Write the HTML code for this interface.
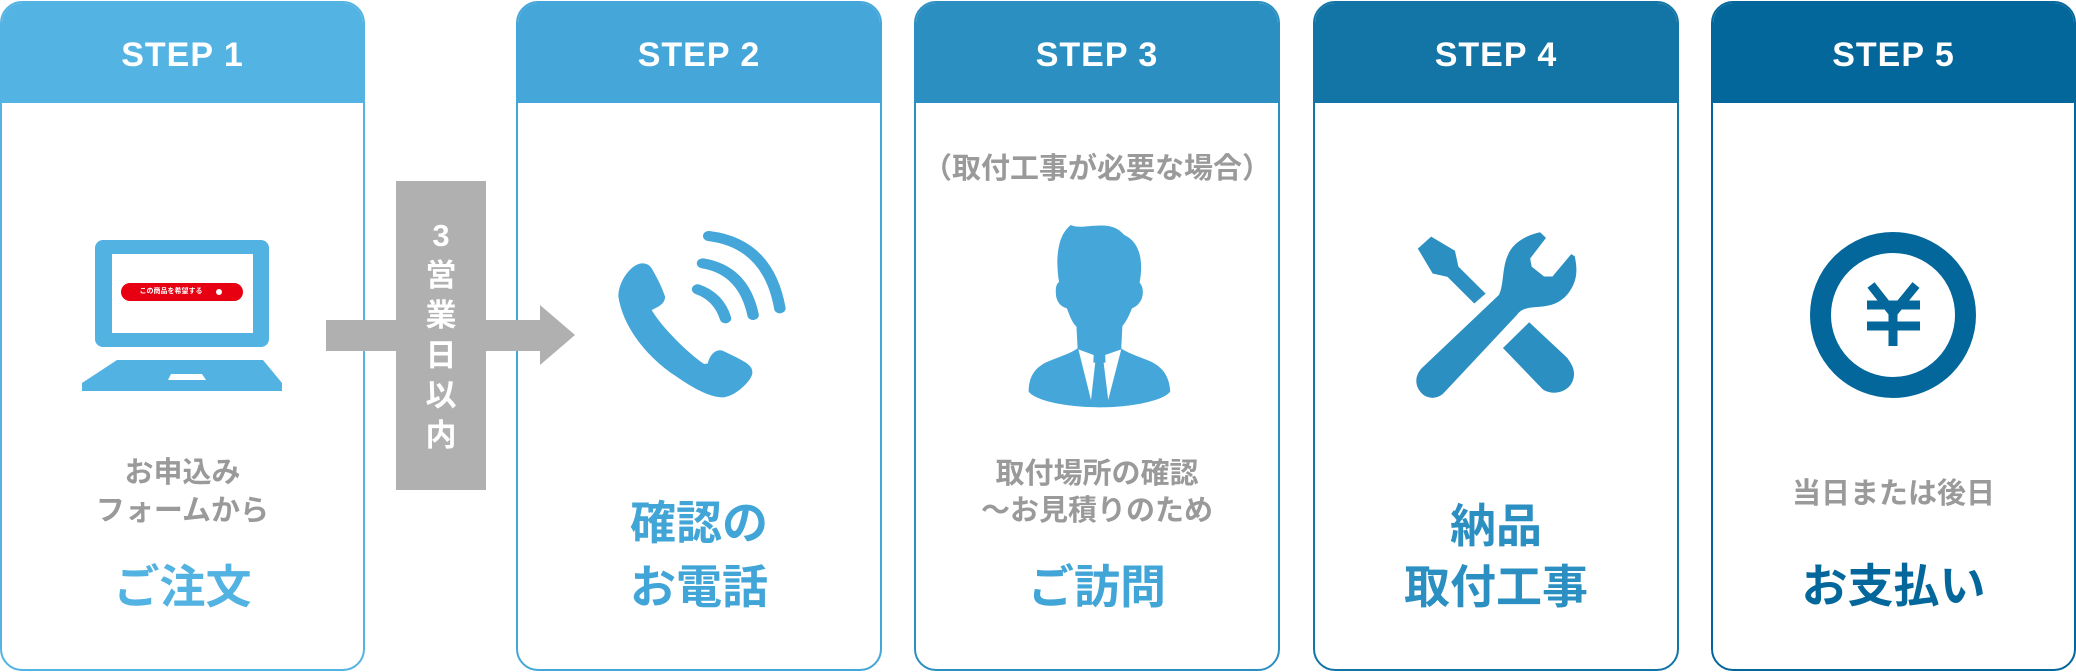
<!DOCTYPE html>
<html><head><meta charset="utf-8"><style>
*{margin:0;padding:0;box-sizing:border-box}
body{width:2076px;height:672px;background:#fff;position:relative;overflow:hidden;font-family:"Liberation Sans","Noto Sans CJK JP",sans-serif;font-weight:bold}
.card{position:absolute;top:1px;height:670px;width:366px;border:2px solid;border-radius:22px;overflow:hidden;background:#fff}
.hd{position:absolute;left:0;top:0;right:0;height:100px;color:#fff;font-size:34px;text-align:center;line-height:104px;letter-spacing:1px}
.t{position:absolute;left:0;right:0;text-align:center;white-space:nowrap}
.s{font-size:29px;color:#9a9a9a;line-height:36px}
.b{font-size:46px;line-height:56px}
</style></head><body>
<div class="card" style="left:0px;width:365px;border-color:#53b3e3"><div class="hd" style="background:#53b3e3">STEP 1</div>
<div class="t s" style="top:452px">お申込み</div>
<div class="t s" style="top:490px">フォームから</div>
<div class="t b" style="top:556px;color:#52b2e2">ご注文</div></div>
<div class="card" style="left:516px;border-color:#44a6d9"><div class="hd" style="background:#44a6d9">STEP 2</div>
<div class="t b" style="top:492px;color:#42a5d8">確認の</div>
<div class="t b" style="top:556px;color:#42a5d8">お電話</div></div>
<div class="card" style="left:914px;border-color:#2b8fc2"><div class="hd" style="background:#2b8fc2">STEP 3</div>
<div class="t s" style="top:148px">（取付工事が必要な場合）</div>
<div class="t s" style="top:453px">取付場所の確認</div>
<div class="t s" style="top:490px">～お見積りのため</div>
<div class="t b" style="top:556px;color:#42a5d8">ご訪問</div></div>
<div class="card" style="left:1313px;border-color:#1275a6"><div class="hd" style="background:#1275a6">STEP 4</div>
<div class="t b" style="top:495px;color:#2b8fc2">納品</div>
<div class="t b" style="top:556px;color:#2b8fc2">取付工事</div></div>
<div class="card" style="left:1711px;width:365px;border-color:#03679b"><div class="hd" style="background:#03679b">STEP 5</div>
<div class="t s" style="top:473px">当日または後日</div>
<div class="t b" style="top:555px;color:#03679b">お支払い</div></div>

<svg style="position:absolute;left:0;top:0" width="2076" height="672">
<rect x="326" y="320" width="220" height="31" fill="#b0b0b0"/>
<polygon points="540,305 575,335 540,365" fill="#b0b0b0"/>
<rect x="396" y="181" width="90" height="309" fill="#b0b0b0"/>
<rect x="95" y="240" width="174" height="107" rx="8" fill="#52b2e2"/>
<rect x="112" y="254" width="141" height="79" fill="#fff"/>
<rect x="121" y="283" width="122" height="18" rx="9" fill="#e60012"/>
<circle cx="219" cy="292" r="3" fill="#fff"/>
<path d="M82,391 L82,383 L117,360 L263,360 L282,383 L282,391 Z" fill="#52b2e2"/>
<polygon points="168,380 171,374 202,374 206,380" fill="#fff"/>
<g transform="translate(600,200) scale(0.3827,0.3333)" fill="#44a6d9">
<path d="M110,190 C85,190 48,240 48,290 C60,380 120,470 200,530 C250,570 290,592 320,592 C350,592 395,545 398,520 C400,495 380,485 320,452 C300,445 285,470 282,490 L272,492 C230,460 160,380 135,330 C155,320 170,310 170,290 C160,255 145,225 135,205 C128,193 120,190 110,190 Z"/>
<g fill="none" stroke="#44a6d9" stroke-width="30" stroke-linecap="round">
<path d="M255,268 Q310,290 328,355"/>
<path d="M268,190 Q375,210 400,345"/>
<path d="M284,108 Q440,130 470,325"/></g></g>
<g transform="translate(600,200) scale(0.3827,0.3333)">
<path fill="#44a6d9" d="M1230,75 C1210,95 1198,120 1195,180 C1195,210 1198,240 1200,245 C1190,255 1190,270 1192,290 C1196,310 1205,320 1220,325 C1228,350 1235,370 1245,380 L1248,445 C1230,460 1200,470 1170,485 C1130,505 1120,540 1120,575 C1140,605 1230,622 1305,622 C1380,622 1470,605 1490,575 C1488,535 1475,505 1440,485 C1410,470 1380,460 1362,445 L1365,378 C1375,365 1383,345 1390,325 C1405,318 1415,305 1418,285 C1420,265 1415,255 1410,248 C1418,200 1418,130 1370,105 C1350,80 1330,75 1300,77 C1270,78 1250,85 1230,75 Z"/>
<path fill="#fff" d="M1250,448 L1290,465 L1289,488 L1294,488 L1283,600 Z M1362,448 L1320,465 L1321,488 L1316,488 L1328,600 Z"/></g>
<g transform="translate(1300,0) scale(0.495,0.4286)" fill="#2b8fc2">
<path d="M265,552 L238,580 L268,638 L298,646 L352,708 L375,685 L320,622 L313,585 Z"/>
<path d="M463,752 L410,812 L490,908 C510,925 545,915 552,885 C558,860 545,845 540,835 Z"/>
<path d="M485,542 C460,548 430,565 420,595 C408,625 412,665 402,688 L245,860 C230,880 232,905 250,922 C268,935 285,925 292,915 L438,735 C450,715 470,718 490,715 C520,712 540,695 552,665 C562,640 558,615 555,598 L548,593 L510,645 L493,645 L468,622 L465,603 L497,555 Z"/></g>
<circle cx="1893" cy="315" r="72.5" fill="none" stroke="#03679b" stroke-width="21"/>
<g stroke="#03679b" stroke-width="9" fill="none">
<polyline points="1871,285 1893,313 1916,285"/>
<line x1="1867" y1="305" x2="1920" y2="305"/>
<line x1="1867" y1="326" x2="1920" y2="326"/>
<line x1="1893" y1="311" x2="1893" y2="346"/></g>
</svg>
<div style="position:absolute;left:121px;top:286px;width:100px;font-size:7px;color:#fff;text-align:center;line-height:12px">この商品を希望する</div>
<div style="position:absolute;left:396px;top:216px;width:90px;color:#fff;font-size:31px;line-height:40px;text-align:center">3<br>営<br>業<br>日<br>以<br>内</div>
</body></html>
